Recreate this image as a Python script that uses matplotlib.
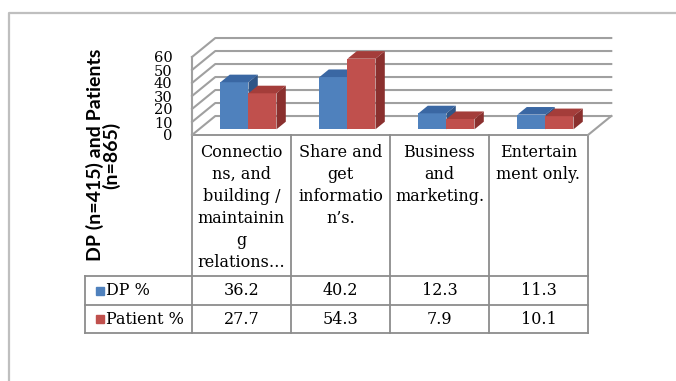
import matplotlib.pyplot as plt
from matplotlib.patches import Polygon, Rectangle

# data
header_lines = [
    "Connectio\nns, and\nbuilding /\nmaintainin\ng\nrelations…",
    "Share and\nget\ninformatio\nn’s.",
    "Business\nand\nmarketing.",
    "Entertain\nment only.",
]
dp_pct = [36.2, 40.2, 12.3, 11.3]
patient_pct = [27.7, 54.3, 7.9, 10.1]
series_names = ["DP %", "Patient %"]
y_ticks = [0, 10, 20, 30, 40, 50, 60]
y_title = "DP (n=415) and Patients\n(n=865)"

# colours: front, top, side
series_colors = [
    ("#4F81BD", "#3A67A3", "#2F5587"),
    ("#C0504D", "#A43D3A", "#8A302E"),
]
grid_col = "#A0A0A0"
line_col = "#8C8C8C"
serif = "DejaVu Serif"

W, H = 676, 381
fig = plt.figure(figsize=(W / 100, H / 100), dpi=100)


def px_box(x0, y0, x1, y1):
    return [x0 / W, 1 - y1 / H, (x1 - x0) / W, (y1 - y0) / H]


# overlay in pixel units for the frame and the data table
over = fig.add_axes([0, 0, 1, 1])
over.set_xlim(0, W)
over.set_ylim(H, 0)
over.axis("off")

# plot area, front plane
ax = fig.add_axes(px_box(192, 57, 588, 135))
ax.set_xlim(-0.5, len(dp_pct) - 0.5)
ax.set_ylim(y_ticks[0], y_ticks[-1])
ax.patch.set_visible(False)
for s in ax.spines.values():
    s.set_visible(False)
ax.set_xticks([])
ax.set_yticks(y_ticks)
ax.tick_params(axis="y", length=0, pad=14, labelsize=10.5)
for lab in ax.get_yticklabels():
    lab.set_fontfamily(serif)

# oblique depth (full depth of floor) in data units
DX, DY = 0.235, 14.6


def proj(c, v, d):
    return (c + d * DX, v + d * DY)


x_lo, x_hi = -0.5, len(dp_pct) - 0.5
for v in y_ticks:
    pts = [proj(x_lo, v, 0), proj(x_lo, v, 1), proj(x_hi, v, 1)]
    ax.plot([p[0] for p in pts], [p[1] for p in pts], color=grid_col,
            lw=1.5, clip_on=False, zorder=1)
ax.plot([x_lo, x_lo], [y_ticks[0], y_ticks[-1]], color=grid_col, lw=1.5,
        clip_on=False, zorder=1)
p0, p1 = proj(x_hi, 0, 0), proj(x_hi, 0, 1)
ax.plot([p0[0], p1[0]], [p0[1], p1[1]], color=grid_col, lw=1.5,
        clip_on=False, zorder=1)

# 3d columns
bar_w = 0.283
D0, D1 = 0.3, 0.7
for j, vals in enumerate([dp_pct, patient_pct]):
    front, top, side = series_colors[j]
    lefts = [i - bar_w + j * bar_w for i in range(len(vals))]
    ax.bar([x + D0 * DX for x in lefts], vals, bar_w, bottom=D0 * DY,
           align="edge", color=front, clip_on=False, zorder=3 + j)
    for x0, v in zip(lefts, vals):
        x1 = x0 + bar_w
        top_pts = [proj(x0, v, D0), proj(x1, v, D0), proj(x1, v, D1), proj(x0, v, D1)]
        side_pts = [proj(x1, 0, D0), proj(x1, v, D0), proj(x1, v, D1), proj(x1, 0, D1)]
        ax.add_patch(Polygon(top_pts, closed=True, facecolor=top, edgecolor="none",
                             clip_on=False, zorder=3 + j))
        ax.add_patch(Polygon(side_pts, closed=True, facecolor=side, edgecolor="none",
                             clip_on=False, zorder=3 + j))

# outer chart border
over.plot([9, 9, W + 5], [H + 5, 13, 13], color="#BFBFBF", lw=1.6, clip_on=False)

# data table
n = len(dp_pct)
col_left, col_w = 192, 99
stub_left = 85
head_top, head_bot = 135, 276
row_edges = [head_bot, 305, 333]
edges = [col_left + col_w * k for k in range(n + 1)]

over.plot([edges[0], edges[-1]], [head_top, head_top], color=line_col, lw=1.3)
for y in row_edges:
    over.plot([stub_left, edges[-1]], [y, y], color=line_col, lw=1.3)
for x in edges:
    over.plot([x, x], [head_top, row_edges[-1]], color=line_col, lw=1.3)
over.plot([stub_left, stub_left], [row_edges[0], row_edges[-1]], color=line_col, lw=1.3)

for k, txt in enumerate(header_lines):
    over.text((edges[k] + edges[k + 1]) / 2, 144, txt, ha="center", va="top",
              fontsize=11.5, family=serif, linespacing=1.38)

for r, (name, vals) in enumerate(zip(series_names, [dp_pct, patient_pct])):
    yc = (row_edges[r] + row_edges[r + 1]) / 2
    over.add_patch(Rectangle((96, yc - 4), 8, 8, color=series_colors[r][0]))
    over.text(106, yc, name, ha="left", va="center", fontsize=11.5, family=serif)
    for k, v in enumerate(vals):
        over.text((edges[k] + edges[k + 1]) / 2, yc, f"{v:.1f}", ha="center",
                  va="center", fontsize=11.5, family=serif)

# axis title
fig.text(103 / W, 1 - 155 / H, y_title, rotation=90, ha="center", va="center",
         multialignment="center", fontweight="bold", family="Lato",
         fontsize=14, linespacing=0.9)

fig.savefig("out.png", dpi=100)
